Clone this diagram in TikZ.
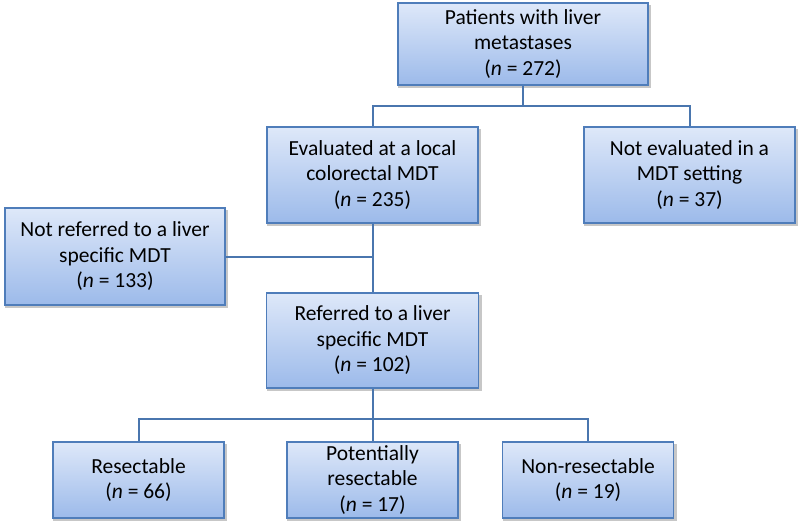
\documentclass[tikz,border=0pt]{standalone}
\usepackage{fontspec}
\setmainfont{Carlito}
\usetikzlibrary{backgrounds}
\definecolor{boxline}{HTML}{4F7DBA}
\definecolor{linkc}{HTML}{4A76AE}
\definecolor{topc}{HTML}{DEE8F9}
\definecolor{botc}{HTML}{9CBAEA}
\tikzset{
  box/.style={draw=boxline, line width=1.1pt, top color=topc, bottom color=botc,
    inner sep=0pt, align=center, font=\fontsize{21.5pt}{25.5pt}\selectfont},
  link/.style={draw=linkc, line width=2pt},
  shade box/.style={fill=black, opacity=0.22}
}
\begin{document}
\begin{tikzpicture}[x=1pt,y=-1pt]
\useasboundingbox (0,0) rectangle (800,525);
\node[box, minimum width=250pt, minimum height=82pt] (top) at (523,44) {Patients with liver\\metastases\\(\textit{n} = 272)};
\node[box, minimum width=211pt, minimum height=96pt] (eval) at (372.5,175) {Evaluated at a local\\colorectal MDT\\(\textit{n} = 235)};
\node[box, minimum width=211pt, minimum height=96pt] (noteval) at (689.5,175) {Not evaluated in a\\MDT setting\\(\textit{n} = 37)};
\node[box, minimum width=220pt, minimum height=97pt] (notref) at (115,256.5) {Not referred to a liver\\specific MDT\\(\textit{n} = 133)};
\node[box, minimum width=212pt, minimum height=95pt] (ref) at (372.5,340.5) {Referred to a liver\\specific MDT\\(\textit{n} = 102)};
\node[box, minimum width=171pt, minimum height=76pt] (res) at (138.5,480) {Resectable\\(\textit{n} = 66)};
\node[box, minimum width=171pt, minimum height=76pt] (pot) at (372.5,480) {Potentially\\resectable\\(\textit{n} = 17)};
\node[box, minimum width=171pt, minimum height=76pt] (non) at (588,480) {Non-resectable\\(\textit{n} = 19)};
\begin{scope}[on background layer]
\foreach \n in {top,eval,noteval,notref,ref,res,pot,non}
  \fill[shade box] ([shift={(1,3)}]\n.north west) rectangle ([shift={(2.5,2.5)}]\n.south east);
\end{scope}
\coordinate (j1) at (523,106);
\coordinate (j2) at (372.5,256.5);
\coordinate (j3) at (372.5,419);
\draw[link] (top.south) -- (j1);
\draw[link] (eval.north) |- (j1) -| (noteval.north);
\draw[link] (eval.south) -- (ref.north);
\draw[link] (notref.east) -- (j2);
\draw[link] (ref.south) -- (j3);
\draw[link] (res.north) |- (j3) -| (non.north);
\draw[link] (j3) -- (pot.north);
\end{tikzpicture}
\end{document}
